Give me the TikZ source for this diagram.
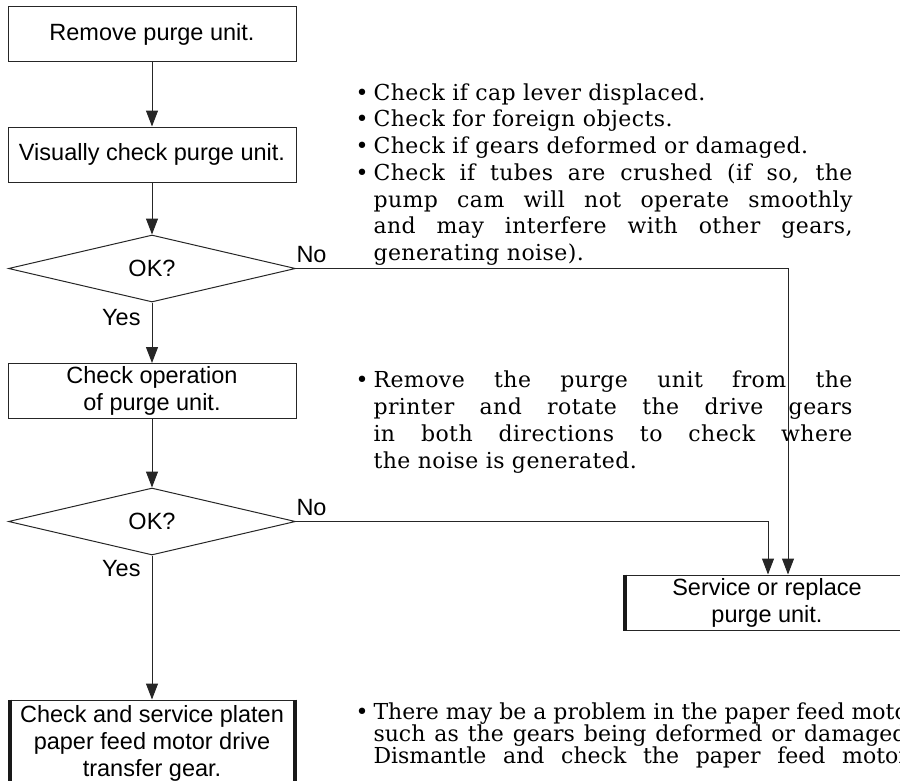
\documentclass[tikz,border=0pt]{standalone}
\usepackage{fontspec}
\setmainfont{DejaVu Serif}
\newfontfamily\boxfont{Liberation Sans}
\newfontfamily\tipfont[LetterSpace=2]{DejaVu Serif}
\usetikzlibrary{positioning,arrows.meta,shapes.geometric}

\newcommand{\jline}[2]{\hbox to #1{#2}}
\newcommand{\tipdot}{\llap{\textbullet\hspace{5pt}}}

\begin{document}
\begin{tikzpicture}[x=1pt,y=-1pt, line width=1pt,
  every node/.style={font=\boxfont\fontsize{23.5}{27}\selectfont},
  stepbox/.style={draw=black!85, minimum width=288, minimum height=55, inner sep=0pt, align=center},
  okdiamond/.style={draw=black!85, diamond, minimum width=287, minimum height=67, inner sep=0pt},
  flow/.style={draw=black!85, -{Triangle[length=16pt,width=12pt]}},
  tips/.style={font=\tipfont\fontsize{22}{26.7}\selectfont, anchor=north west, inner sep=0pt, align=left},
  sidebar/.style={line width=4pt, black!90}]
\useasboundingbox (0,0) rectangle (900,780);
\node[stepbox] (remove) at (152,34) {Remove purge unit.};
\node[stepbox] (visual) at (152,154.5) {Visually check purge unit.};
\node[okdiamond] (okA) at (152,268.5) {OK?};
\node[stepbox] (operate) at (152,391) {Check operation\\of purge unit.};
\node[okdiamond] (okB) at (152,521.5) {OK?};
\node[stepbox, minimum height=86] (platen) at (152,743) {Check and service platen\\paper feed motor drive\\transfer gear.};
\node[stepbox] (service) at (767,602.5) {Service or replace\\purge unit.};
\draw[sidebar] ([xshift=2pt]platen.north west) -- ([xshift=2pt]platen.south west);
\draw[sidebar] ([xshift=-2pt]platen.north east) -- ([xshift=-2pt]platen.south east);
\draw[sidebar] ([xshift=2pt]service.north west) -- ([xshift=2pt]service.south west);
\coordinate (inA) at ([xshift=21pt]service.north);
\coordinate (inB) at ([xshift=1pt]service.north);
\draw[flow] (remove) -- (visual);
\draw[flow] (visual) -- (okA);
\draw[flow] (okA) -- (operate);
\draw[flow] (operate) -- (okB);
\draw[flow] (okB) -- (platen);
\draw[flow] (okA.east) -| (inA);
\draw[flow] (okB.east) -| (inB);
\node[anchor=base west, inner sep=0pt] (noA) at ([yshift=6pt]okA.east) {No};
\node[anchor=base west, inner sep=0pt] (noB) at ([yshift=6.5pt]okB.east) {No};
\node[anchor=base east, inner sep=0pt] (yesA) at ([xshift=-11pt,yshift=-23pt]okA.south) {Yes};
\node[anchor=base east, inner sep=0pt] (yesB) at ([xshift=-11pt,yshift=-21pt]okB.south) {Yes};
% notes beside the flow
\node[tips] (tipsA) at (373,83) {\tipdot Check if cap lever displaced.\\
  \tipdot Check for foreign objects.\\
  \tipdot Check if gears deformed or damaged.\\
  \tipdot\jline{479pt}{Check if tubes are crushed (if so, the}\\
  \jline{479pt}{pump cam will not operate smoothly}\\
  \jline{479pt}{and may interfere with other gears,}\\
  generating noise).};
\node[tips, font=\tipfont\fontsize{22}{27}\selectfont] (tipsB) at (373,370) {\tipdot\jline{479pt}{Remove the purge unit from the}\\
  \jline{479pt}{printer and rotate the drive gears}\\
  \jline{479pt}{in both directions to check where}\\
  the noise is generated.};
\node[tips, font=\fontsize{22}{21.7}\selectfont] (tipsC) at (373,702.5) {\tipdot There may be a problem in the paper feed motor,\\
  \jline{540pt}{such as the gears being deformed or damaged.}\\
  \jline{540pt}{Dismantle and check the paper feed motor.}};
\end{tikzpicture}
\end{document}
